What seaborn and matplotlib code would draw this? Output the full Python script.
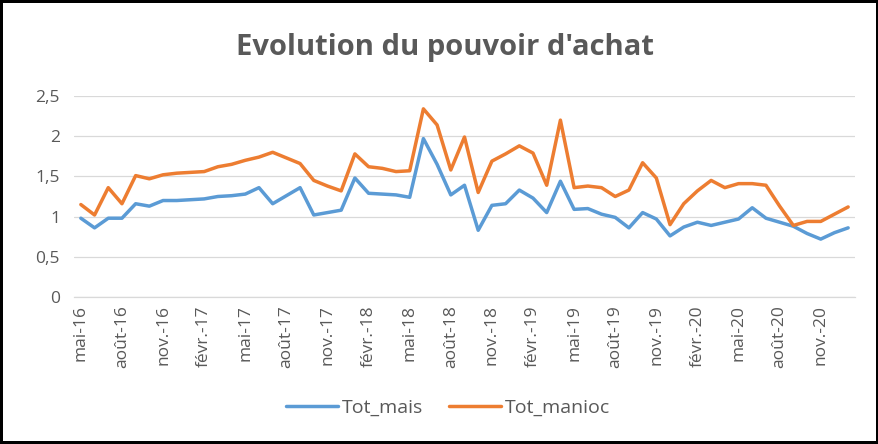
import pandas as pd
import matplotlib.pyplot as plt
import seaborn as sns
from matplotlib.ticker import FuncFormatter

sns.set_style("white")
plt.rcParams['font.family'] = ['Open Sans', 'DejaVu Sans']

# Monthly values, mai-16 .. janv.-21
tot_mais = [0.98, 0.86, 0.98, 0.98, 1.16, 1.13, 1.20, 1.20, 1.21, 1.22,
            1.25, 1.26, 1.28, 1.36, 1.16, 1.26, 1.36, 1.02, 1.05, 1.08,
            1.48, 1.29, 1.28, 1.27, 1.24, 1.97, 1.65, 1.27, 1.39, 0.83,
            1.14, 1.16, 1.33, 1.23, 1.05, 1.44, 1.09, 1.10, 1.03, 0.99,
            0.86, 1.05, 0.97, 0.76, 0.87, 0.93, 0.89, 0.93, 0.97, 1.11,
            0.98, 0.93, 0.88, 0.79, 0.72, 0.80, 0.86]
tot_manioc = [1.15, 1.02, 1.36, 1.16, 1.51, 1.47, 1.52, 1.54, 1.55, 1.56,
              1.62, 1.65, 1.70, 1.74, 1.80, 1.73, 1.66, 1.45, 1.38, 1.32,
              1.78, 1.62, 1.60, 1.56, 1.57, 2.34, 2.14, 1.58, 1.99, 1.30,
              1.69, 1.78, 1.88, 1.79, 1.39, 2.20, 1.36, 1.38, 1.36, 1.25,
              1.33, 1.67, 1.48, 0.90, 1.16, 1.32, 1.45, 1.36, 1.41, 1.41,
              1.39, 1.13, 0.89, 0.94, 0.94, 1.03, 1.12]

mois_fr = ['janv.', 'févr.', 'mars', 'avr.', 'mai', 'juin', 'juil.', 'août',
           'sept.', 'oct.', 'nov.', 'déc.']
dates = pd.date_range('2016-05-01', periods=len(tot_mais), freq='MS')
labels = [f"{mois_fr[d.month - 1]}-{d.strftime('%y')}" for d in dates]

df = pd.DataFrame({'mois': labels, 'Tot_mais': tot_mais, 'Tot_manioc': tot_manioc})
long = df.melt(id_vars='mois', var_name='serie', value_name='valeur')

fig = plt.figure(figsize=(8.79, 4.44), dpi=100)
ax = fig.add_axes([74 / 879, 1 - 297 / 444, 781 / 879, 201 / 444])

sns.lineplot(data=long, x='mois', y='valeur', hue='serie', sort=False,
             palette={'Tot_mais': '#5B9BD5', 'Tot_manioc': '#ED7D31'},
             linewidth=2.5, ax=ax)

n = len(labels)
ax.set_xlim(-0.5, n - 0.5)
ax.set_ylim(0, 2.5)
ax.set_yticks([0, 0.5, 1, 1.5, 2, 2.5])
ax.yaxis.set_major_formatter(FuncFormatter(lambda v, p: f"{v:g}".replace('.', ',')))
ax.yaxis.grid(True, color='#D9D9D9', linewidth=0.9)
ax.set_axisbelow(True)

# tick marks between categories, labels in the middle
ax.set_xticks([i - 0.5 for i in range(0, n + 1, 3)], [''] * len(range(0, n + 1, 3)))
pos = list(range(0, n, 3))
ax.set_xticks(pos, [labels[i] for i in pos], minor=True, rotation=90, fontsize=12.5,
              color='#595959')
ax.tick_params(axis='x', which='major', length=5, color='#D9D9D9', width=0.9, direction='out')
ax.tick_params(axis='x', which='minor', length=0, pad=6)
ax.tick_params(axis='y', length=0, labelsize=12.5, labelcolor='#595959', pad=10)

for s in ['top', 'right', 'left']:
    ax.spines[s].set_visible(False)
ax.spines['bottom'].set_color('#D9D9D9')
ax.spines['bottom'].set_linewidth(0.9)

ax.set_xlabel('')
ax.set_ylabel('')

handles, leg_labels = ax.get_legend_handles_labels()
ax.legend(handles, leg_labels, loc='center', bbox_to_anchor=(448 / 879, 1 - 408 / 444),
          bbox_transform=fig.transFigure, ncol=2, frameon=False, fontsize=14,
          labelcolor='#595959', handlelength=2.7, columnspacing=1.3, handletextpad=0.2)

fig.text(445 / 879, 1 - 48 / 444, "Evolution du pouvoir d'achat", ha='center', va='center',
         fontsize=21, fontweight='bold', color='#595959')

fig.patch.set_edgecolor('black')
fig.patch.set_linewidth(3)

fig.savefig('out.png', dpi=100, edgecolor=fig.get_edgecolor())
